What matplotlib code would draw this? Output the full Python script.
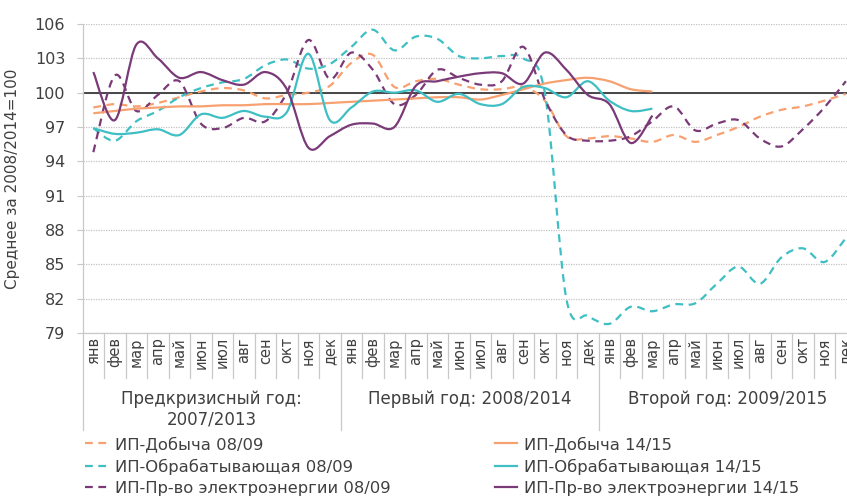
import numpy as np
import matplotlib
matplotlib.use("Agg")
import matplotlib.pyplot as plt
from matplotlib.path import Path
from matplotlib.patches import PathPatch
from matplotlib.lines import Line2D
import matplotlib.transforms as mtransforms

plt.rcParams['font.family'] = ['DejaVu Sans']

# --- Data
month_names = ['янв', 'фев', 'мар', 'апр', 'май', 'июн',
               'июл', 'авг', 'сен', 'окт', 'ноя', 'дек']
months = month_names * 3
groups = ['Предкризисный год:\n2007/2013', 'Первый год: 2008/2014', 'Второй год: 2009/2015']

mining_0809 = [98.7, 99.0, 98.8, 99.1, 99.6, 100.1, 100.4, 100.2, 99.5, 99.8, 100.0, 100.6,
               102.6, 103.3, 100.5, 101.0, 101.2, 100.7, 100.3, 100.3, 100.5, 99.3, 96.2, 96.0,
               96.2, 96.0, 95.7, 96.3, 95.7, 96.3, 97.0, 97.9, 98.5, 98.8, 99.3, 99.9]
manuf_0809 = [96.9, 95.8, 97.5, 98.4, 99.6, 100.4, 100.9, 101.2, 102.4, 102.9, 102.1, 102.5,
              104.0, 105.5, 103.7, 104.9, 104.7, 103.2, 103.0, 103.2, 103.0, 100.0, 82.0, 80.5,
              79.8, 81.3, 80.9, 81.5, 81.6, 83.3, 84.8, 83.3, 85.6, 86.4, 85.2, 87.3]
power_0809 = [94.8, 101.5, 98.4, 99.8, 101.0, 97.3, 96.9, 97.8, 97.5, 100.0, 104.6, 101.2,
              103.5, 102.0, 99.0, 99.8, 102.0, 101.3, 100.7, 101.0, 104.0, 99.4, 96.3, 95.8,
              95.8, 96.2, 97.5, 98.8, 96.7, 97.3, 97.6, 96.0, 95.3, 96.8, 98.7, 101.0]

mining_1415 = [98.2, 98.4, 98.6, 98.7, 98.8, 98.8, 98.9, 98.9, 99.0, 99.0, 99.0, 99.1,
               99.2, 99.3, 99.4, 99.5, 99.6, 99.6, 99.4, 99.8, 100.3, 100.8, 101.1, 101.3,
               101.0, 100.3, 100.1]
manuf_1415 = [96.9, 96.4, 96.5, 96.8, 96.3, 98.1, 97.8, 98.4, 97.9, 98.3, 103.4, 97.6,
              98.7, 100.1, 100.0, 100.2, 99.2, 99.9, 99.0, 99.0, 100.5, 100.4, 99.6, 101.0,
              99.3, 98.4, 98.6]
power_1415 = [101.8, 97.6, 104.2, 103.0, 101.3, 101.8, 101.1, 100.7, 101.8, 100.3, 95.2, 96.2,
              97.2, 97.3, 97.0, 100.6, 101.0, 101.4, 101.7, 101.7, 100.8, 103.5, 102.0, 99.8,
              99.0, 95.6, 98.0]

orange = '#F7A070'
teal = '#3EBFC4'
purple = '#7A3A78'
text_color = '#404040'

series = [
    ("ИП-Добыча 08/09", mining_0809, orange, True),
    ("ИП-Обрабатывающая 08/09", manuf_0809, teal, True),
    ("ИП-Пр-во электроэнергии 08/09", power_0809, purple, True),
    ("ИП-Добыча 14/15", mining_1415, orange, False),
    ("ИП-Обрабатывающая 14/15", manuf_1415, teal, False),
    ("ИП-Пр-во электроэнергии 14/15", power_1415, purple, False),
]
dash = (0, (3.5, 2.5))


def smooth_path(y):
    # smoothed line through the monthly points (Bezier segments, like Excel)
    pts = np.column_stack([np.arange(len(y)), np.asarray(y, float)])
    ext = np.vstack([pts[0], pts, pts[-1]])
    verts = [pts[0]]
    codes = [Path.MOVETO]
    for i in range(len(pts) - 1):
        p0, p1, p2, p3 = ext[i], ext[i + 1], ext[i + 2], ext[i + 3]
        verts += [p1 + (p2 - p0) / 6, p2 - (p3 - p1) / 6, p2]
        codes += [Path.CURVE4] * 3
    return Path(verts, codes)


fig = plt.figure(figsize=(8.47, 5.04), dpi=100)
ax = fig.add_axes([82.6 / 847, 171 / 504, 774 / 847, 309 / 504])

ax.set_ylim(79, 106)
ax.set_xlim(-0.5, 35.5)
ax.set_yticks(np.arange(79, 107, 3))
ax.grid(axis='y', linestyle=(0, (1, 1)), color='#c4c4c4', lw=0.9)
ax.set_axisbelow(True)
ax.axhline(100, color='#3a3a3a', lw=1.3, zorder=1)

for label, values, color, dashed in series:
    patch = PathPatch(smooth_path(values), fill=False, edgecolor=color, lw=1.6,
                      linestyle=dash if dashed else '-', zorder=2)
    ax.add_patch(patch)

for s in ['top', 'right']:
    ax.spines[s].set_visible(False)
for s in ['left', 'bottom']:
    ax.spines[s].set_color('#c8c8c8')
    ax.spines[s].set_linewidth(0.9)

ax.tick_params(axis='y', length=4.5, color='#c8c8c8', pad=8, labelsize=11.5, labelcolor=text_color)
ax.set_xticks(np.arange(36))
ax.set_xticklabels(months, rotation=90, fontsize=10.5, color=text_color)
ax.tick_params(axis='x', length=0, pad=3)

ax.set_ylabel("Среднее за 2008/2014=100", fontsize=11, color=text_color)
ax.yaxis.set_label_coords(-0.081, 0.5)

# category separators below the axis
trans = mtransforms.blended_transform_factory(ax.transData, ax.transAxes)
for b in np.arange(0, 37) - 0.5:
    low = -0.314 if b % 12 == 11.5 or b == -0.5 else -0.146
    ax.plot([b, b], [0, low], transform=trans, color='#c8c8c8', lw=0.9, clip_on=False)

for g, name in enumerate(groups):
    ax.text(g * 12 + 5.5, -0.183, name, transform=trans, ha='center', va='top',
            fontsize=12, color=text_color, linespacing=1.2)

# legend: two columns, dashed series left, solid series right
dashed_handles = [Line2D([], [], color=c, lw=1.6, linestyle=dash) for _, _, c, d in series if d]
solid_handles = [Line2D([], [], color=c, lw=1.6) for _, _, c, d in series if not d]
dashed_labels = [l for l, _, _, d in series if d]
solid_labels = [l for l, _, _, d in series if not d]

legend_kw = dict(frameon=False, fontsize=11.8, handlelength=1.35, handletextpad=0.45,
                 labelspacing=0.4, borderaxespad=0, borderpad=0, labelcolor=text_color)
fig.legend(dashed_handles, dashed_labels, loc='upper left',
           bbox_to_anchor=(85 / 847, 1 - 436 / 504), **legend_kw)
fig.legend(solid_handles, solid_labels, loc='upper left',
           bbox_to_anchor=(495 / 847, 1 - 436 / 504), **legend_kw)

fig.savefig("out.png", dpi=100)
